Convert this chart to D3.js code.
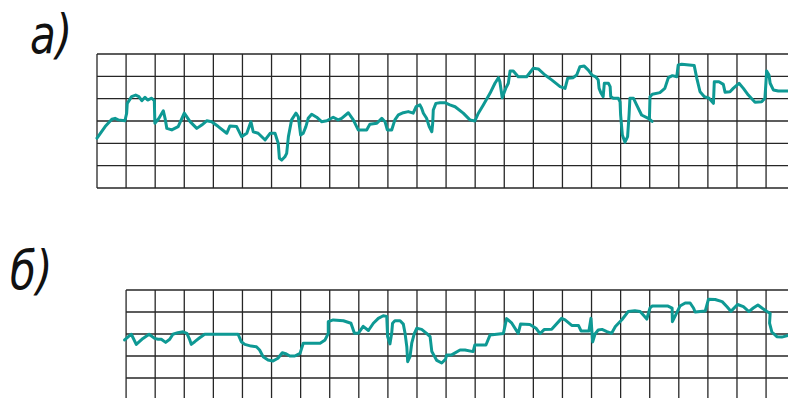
<!DOCTYPE html>
<html>
<head>
<meta charset="utf-8">
<script src="https://cdn.jsdelivr.net/npm/d3@7"></script>
<style>
  html, body { margin: 0; padding: 0; background: #fff; overflow: hidden; }
  svg { display: block; }
</style>
</head>
<body>
<svg id="chart" width="788" height="398"></svg>
<script>
// Record a): position along the tape in grid columns, level in grid divisions
const xA = [0,0.28,0.51,0.62,0.73,0.96,1.02,1.04,1.19,1.33,1.44,1.54,1.65,1.74,1.88,1.97,1.99,2.13,2.28,2.34,2.40,2.57,2.79,3.00,3.20,3.43,3.60,3.77,3.94,4.17,4.46,4.57,4.80,4.97,5.15,5.29,5.37,5.54,5.78,5.95,6.12,6.23,6.27,6.35,6.46,6.52,6.58,6.69,6.84,6.92,7.00,7.09,7.18,7.26,7.38,7.55,7.72,7.90,8.12,8.29,8.41,8.64,8.81,8.98,9.27,9.38,9.62,9.79,9.90,9.98,10.13,10.24,10.36,10.53,10.70,10.87,10.97,11.10,11.16,11.22,11.33,11.42,11.51,11.54,11.56,11.65,11.79,11.96,12.13,12.31,12.59,12.82,12.99,13.11,13.28,13.51,13.68,13.80,13.85,13.93,14.05,14.14,14.20,14.31,14.48,14.77,15.00,15.17,15.40,15.63,15.92,16.09,16.18,16.37,16.49,16.60,16.75,16.89,17.01,17.14,17.23,17.26,17.33,17.40,17.44,17.58,17.64,17.66,17.75,17.92,17.98,18.00,18.06,18.15,18.24,18.29,18.32,18.44,18.55,18.72,18.95,19.08,18.99,19.01,19.09,19.35,19.52,19.64,19.78,19.93,19.98,20.10,20.53,20.62,20.73,20.88,21.04,21.19,21.22,21.38,21.53,21.59,21.76,21.87,22.07,22.22,22.39,22.62,22.85,22.96,22.99,23.02,23.10,23.14,23.25,23.42,23.75];
const yA = [2.23,2.75,3.08,3.12,3.05,3.01,3.35,3.79,4.09,4.16,4.09,3.91,4.06,3.94,4.02,3.91,2.90,3.12,3.46,3.12,2.67,2.60,2.75,3.35,2.97,2.67,2.82,3.01,2.97,2.75,2.45,2.78,2.75,2.30,2.45,2.97,2.52,2.45,2.15,2.45,2.45,2.00,1.33,1.25,1.40,1.55,2.30,3.05,3.35,3.19,2.37,2.45,2.75,3.12,3.30,3.17,2.97,3.01,3.17,3.05,3.12,3.37,3.05,2.60,2.60,2.85,2.90,3.12,2.97,2.60,2.60,3.05,3.27,3.37,3.42,3.35,3.64,3.72,3.57,3.35,3.12,2.75,2.52,2.90,3.49,3.79,3.82,3.82,3.72,3.64,3.35,3.05,3.00,3.35,3.72,4.24,4.69,4.94,4.76,4.04,4.46,4.69,5.24,5.24,4.98,4.98,5.36,5.33,5.06,4.84,4.54,4.46,4.91,4.94,5.06,5.43,5.46,5.28,5.06,4.98,4.84,4.46,4.24,4.09,4.69,4.69,4.54,4.09,4.02,4.02,3.86,3.27,2.37,2.05,2.30,3.27,4.02,4.02,3.72,3.27,3.12,2.98,3.09,4.09,4.20,4.27,4.46,4.94,5.03,4.98,5.51,5.54,5.48,4.91,4.31,4.09,4.02,3.79,4.76,4.76,4.64,4.29,4.31,4.46,4.69,4.46,4.16,3.84,3.86,4.02,4.61,5.24,5.06,4.69,4.39,4.34,4.34];

// Record б)
const xB = [0.95,1.18,1.35,1.58,1.79,1.98,2.10,2.21,2.36,2.50,2.61,2.78,2.96,3.09,3.19,3.24,3.36,3.53,3.70,3.87,4.85,4.96,5.08,5.30,5.48,5.59,5.71,5.88,6.05,6.22,6.37,6.51,6.63,6.80,6.98,7.09,7.67,7.84,7.95,7.95,8.12,8.47,8.73,8.85,8.98,9.15,9.33,9.50,9.67,9.84,9.96,9.99,10.07,10.13,10.16,10.24,10.42,10.53,10.59,10.65,10.68,10.76,10.82,10.91,10.99,11.16,11.33,11.45,11.51,11.68,11.85,11.98,12.02,12.19,12.48,12.65,12.93,12.99,13.37,13.51,13.97,14.08,14.26,14.48,14.56,14.88,15.09,15.23,15.37,15.63,15.97,16.09,16.32,16.55,16.64,16.91,16.98,17.04,17.12,17.23,17.36,17.53,17.69,17.82,18.05,18.26,18.49,18.67,18.78,18.90,19.01,19.08,19.63,19.77,19.78,19.89,20.04,20.22,20.39,20.51,20.56,20.91,21.02,21.25,21.49,21.65,21.79,22.02,22.22,22.41,22.56,22.72,22.87,23.03,23.14,23.12,23.20,23.37,23.54,23.75];
const yB = [2.73,2.99,2.53,2.80,2.99,2.80,2.76,2.76,2.62,2.76,2.99,3.06,3.10,3.03,2.73,2.53,2.65,2.83,2.99,2.99,2.99,2.65,2.53,2.45,2.42,2.27,1.97,1.82,1.77,1.90,2.15,2.09,2.00,2.00,2.12,2.58,2.58,2.73,3.03,3.56,3.64,3.60,3.49,3.03,3.03,3.35,3.16,3.49,3.71,3.83,3.80,2.88,2.55,3.03,3.49,3.60,3.60,3.45,3.03,2.42,1.74,1.97,2.58,3.03,3.26,3.21,3.03,2.88,2.20,1.80,1.68,1.85,2.05,2.05,2.27,2.27,2.20,2.50,2.50,2.95,3.02,3.70,3.49,3.03,3.45,3.43,3.26,3.02,3.20,3.22,3.71,3.64,3.39,3.39,3.14,3.14,3.71,2.64,3.00,3.18,3.21,3.11,3.03,3.34,3.66,4.02,4.06,4.02,3.86,3.68,4.18,4.27,4.27,4.18,3.56,3.86,4.27,4.41,4.41,4.17,4.00,4.05,4.58,4.57,4.47,4.25,4.03,4.34,4.24,4.02,4.18,4.32,4.17,4.02,3.94,3.49,3.09,2.88,2.86,2.93];

// Chart paper: 24 columns; a) has 6 divisions, б) starts one column later with 5
const columns = 24;
const rowsA = 6, rowsB = 5;
const labelA = "а)", labelB = "б)";

const svg = d3.select("#chart");
const gridColor = "#262626";
const traceColor = "#0e9994";

const x = d3.scaleLinear().domain([0, columns]).range([97, 97 + columns * 29.09]);
const yScaleA = d3.scaleLinear().domain([0, rowsA]).range([188, 54]);
const yScaleB = d3.scaleLinear().domain([0, rowsB]).range([400, 290]);

function drawGrid(g, firstCol, rows, y) {
  g.selectAll("line.v").data(d3.range(firstCol, columns + 1)).join("line")
    .attr("class", "v")
    .attr("x1", d => x(d)).attr("x2", d => x(d))
    .attr("y1", y(0)).attr("y2", y(rows))
    .attr("stroke", gridColor).attr("stroke-width", 1.3);
  g.selectAll("line.h").data(d3.range(0, rows + 1)).join("line")
    .attr("class", "h")
    .attr("x1", x(firstCol)).attr("x2", x(columns))
    .attr("y1", d => y(d)).attr("y2", d => y(d))
    .attr("stroke", gridColor).attr("stroke-width", 1.3);
}

function drawTrace(g, xs, ys, y) {
  const pts = xs.map((v, i) => [v, ys[i]]);
  const line = d3.line().x(d => x(d[0])).y(d => y(d[1]));
  g.append("path").datum(pts)
    .attr("d", line)
    .attr("fill", "none")
    .attr("stroke", traceColor)
    .attr("stroke-width", 3)
    .attr("stroke-linejoin", "round")
    .attr("stroke-linecap", "round");
}

const gA = svg.append("g");
drawGrid(gA, 0, rowsA, yScaleA);
drawTrace(gA, xA, yA, yScaleA);

const gB = svg.append("g");
drawGrid(gB, 1, rowsB, yScaleB);
drawTrace(gB, xB, yB, yScaleB);

// Panel letters
function drawLabel(text, tx, ty) {
  svg.append("text")
    .attr("transform", `translate(${tx},${ty}) scale(0.78,1)`)
    .attr("font-family", "DejaVu Sans")
    .attr("font-style", "italic")
    .attr("font-weight", 200)
    .attr("font-size", 54)
    .attr("fill", "#111")
    .text(text);
}
drawLabel(labelA, 30, 53);
drawLabel(labelB, 10, 289);
</script>
</body>
</html>
